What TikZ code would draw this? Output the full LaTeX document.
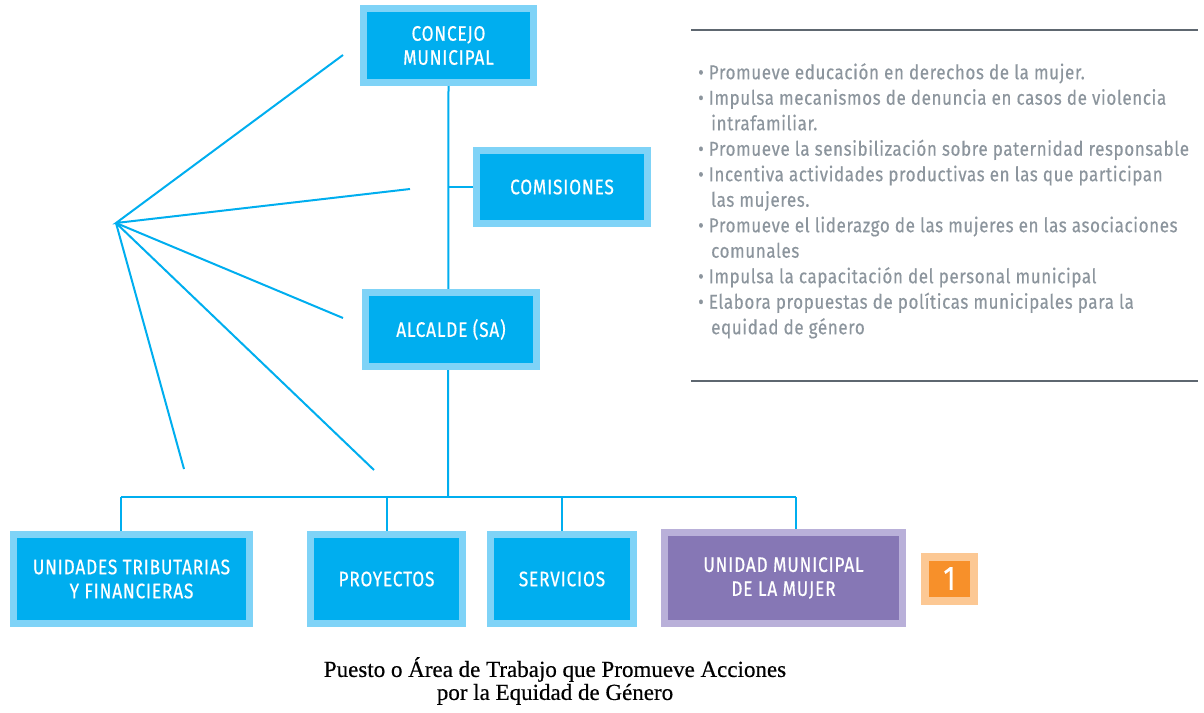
\documentclass[tikz,border=0pt]{standalone}
\usepackage{fontspec}
\setmainfont{Fira Sans}
\newfontfamily\din[FakeStretch=0.82,LetterSpace=4,FakeBold=0.6]{Fira Sans}
\newfontfamily\dintxt[FakeStretch=0.85,LetterSpace=3,FakeBold=0.4]{Fira Sans}
\newfontfamily\capfont[FakeBold=0.5]{Liberation Serif}
\usetikzlibrary{backgrounds}
\definecolor{cyanfill}{HTML}{00AEEF}
\definecolor{cyanlight}{HTML}{7FD3F7}
\definecolor{purfill}{HTML}{8677B5}
\definecolor{purlight}{HTML}{B9B0D9}
\definecolor{orfill}{HTML}{F7902A}
\definecolor{orlight}{HTML}{FCC894}
\definecolor{txtgray}{HTML}{8C959D}
\definecolor{rulegray}{HTML}{5E6770}
\tikzset{
  orgbox/.style={fill=cyanfill, draw=cyanlight, line width=7pt, text=white,
    font=\din\fontsize{21}{24}\selectfont, align=center, inner sep=0pt},
  purbox/.style={orgbox, fill=purfill, draw=purlight},
  orbox/.style={orgbox, fill=orfill, draw=orlight, line width=8pt, font=\din\fontsize{34}{36}\selectfont},
  conn/.style={draw=cyanfill, line width=2pt},
  fan/.style={draw=cyanfill, line width=2pt},
  rule/.style={draw=rulegray, line width=1.2pt},
}
\begin{document}
\begin{tikzpicture}[x=1pt,y=-1pt]
\useasboundingbox (0,0) rectangle (1204,712);
% boxes
\node[orgbox, minimum width=170, minimum height=74] (concejo) at (448.5,45.5) {CONCEJO\\MUNICIPAL};
\node[orgbox, minimum width=171, minimum height=73] (comis) at (562,187) {COMISIONES};
\node[orgbox, minimum width=171, minimum height=74] (alcalde) at (451,329.5) {ALCALDE (SA)};
\node[orgbox, minimum width=236, minimum height=89] (unid) at (131.5,579) {UNIDADES TRIBUTARIAS\\Y FINANCIERAS};
\node[orgbox, minimum width=152, minimum height=89] (proy) at (386.5,579) {PROYECTOS};
\node[orgbox, minimum width=143, minimum height=89] (serv) at (562,579) {SERVICIOS};
\node[purbox, minimum width=238, minimum height=91] (mujer) at (783.5,578) {UNIDAD MUNICIPAL\\DE LA MUJER};
\node[orbox, minimum width=49, minimum height=44] (uno) at (949.5,578.5) {1};
% coordinates
\coordinate (bus) at (448,497);
\coordinate (jc) at (448,187);
\coordinate (busL) at (121,497);
\coordinate (busP) at (386.5,497);
\coordinate (busS) at (562,497);
\coordinate (busM) at (796,497);
\coordinate (hub) at (116,223);
\coordinate (f1) at (343,55);
\coordinate (f2) at (410,189);
\coordinate (f3) at (343,318);
\coordinate (f4) at (374,470);
\coordinate (f5) at (184,469);
\begin{scope}[on background layer]
\draw[conn] (concejo.south) -- (bus);
\draw[conn] (jc) -- (comis.west);
\draw[conn] (busL) -- (busM);
\draw[conn] (busL) -- (busL |- unid.north);
\draw[conn] (busP) -- (busP |- proy.north);
\draw[conn] (busS) -- (busS |- serv.north);
\draw[conn] (busM) -- (busM |- mujer.north);
\end{scope}
\draw[fan] (f1) -- (hub) -- (f2);
\draw[fan] (hub) -- (f3);
\draw[fan] (hub) -- (f4);
\draw[fan] (hub) -- (f5);
% right text
\coordinate (r1a) at (691,30);
\coordinate (r1b) at (1198,30);
\coordinate (r2a) at (691,381);
\coordinate (r2b) at (1198,381);
\draw[rule] (r1a) -- (r1b);
\draw[rule] (r2a) -- (r2b);
\node[anchor=north west, align=left, text=txtgray, inner sep=0pt,
  font=\dintxt\fontsize{20}{25.5}\selectfont] (list) at (698,63) {%
• Promueve educación en derechos de la mujer.\\
• Impulsa mecanismos de denuncia en casos de violencia\\
\hspace*{13pt}intrafamiliar.\\
• Promueve la sensibilización sobre paternidad responsable\\
• Incentiva actividades productivas en las que participan\\
\hspace*{13pt}las mujeres.\\
• Promueve el liderazgo de las mujeres en las asociaciones\\
\hspace*{13pt}comunales\\
• Impulsa la capacitación del personal municipal\\
• Elabora propuestas de políticas municipales para la\\
\hspace*{13pt}equidad de género};
% caption
\node[align=center, font=\capfont\fontsize{23}{23}\selectfont, inner sep=0pt] (caption) at (555,681) {Puesto o Área de Trabajo que Promueve Acciones\\por la Equidad de Género};
\end{tikzpicture}
\end{document}
